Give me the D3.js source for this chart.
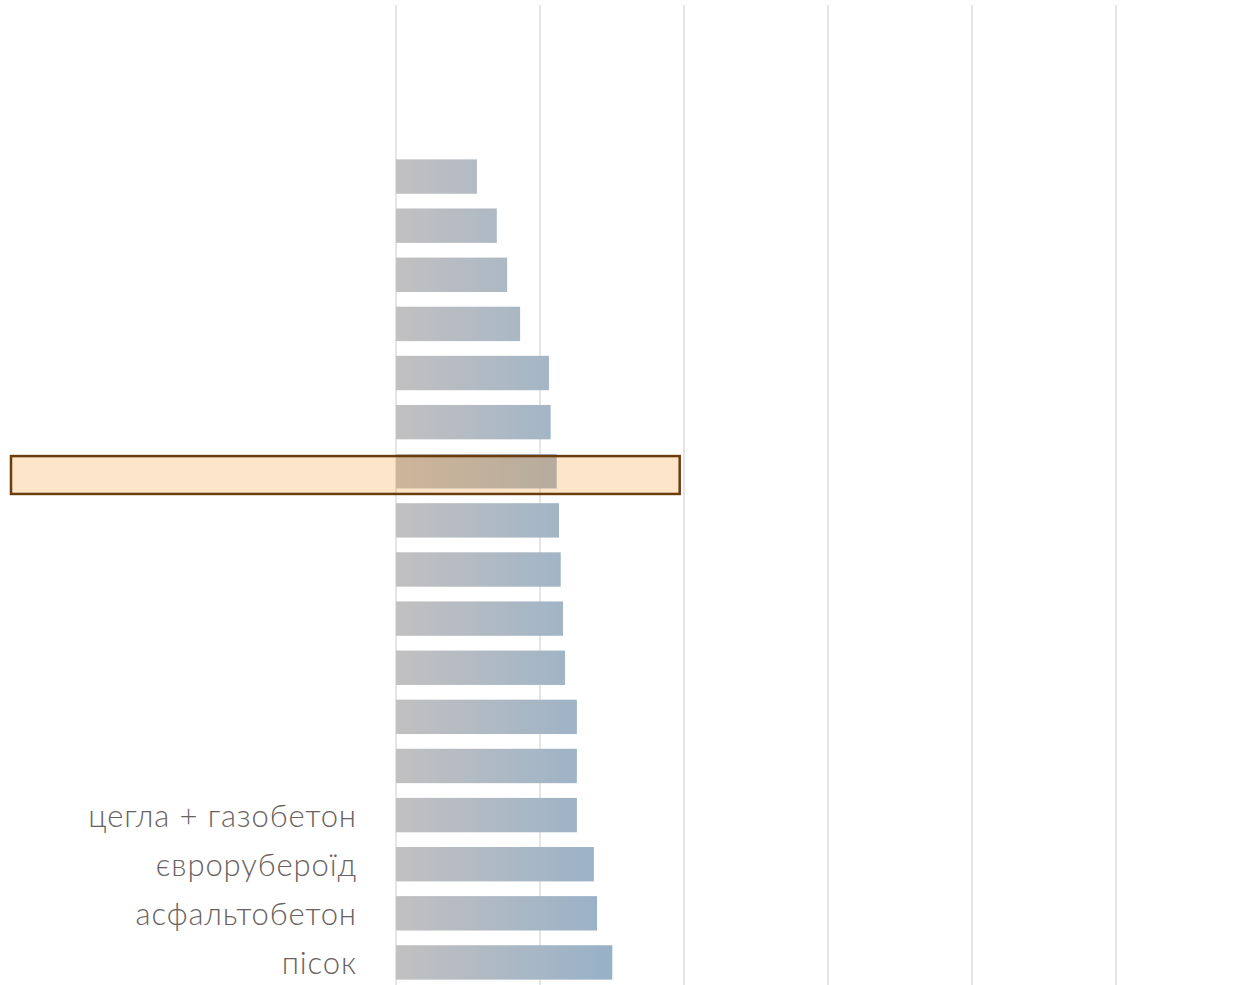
<!DOCTYPE html>
<html lang="uk">
<head>
  <meta charset="utf-8">
  <title>Матеріали</title>
  <script src="https://d3js.org/d3.v7.min.js"></script>
  <style>
    body { margin: 0; background: #fff; }
    .label { font-family: Lato, "Open Sans", sans-serif; font-weight: 300; font-size: 31px; letter-spacing: 0.9px; fill: #6a6260; }
    .grid line { stroke: #dcdcdc; stroke-width: 1.5; }
  </style>
</head>
<body>
<svg width="1248" height="985"></svg>
<script>
// rows from top to bottom; only the last four carry a visible name
var categories = ["r1","r2","r3","r4","r5","r6","r7","r8","r9","r10","r11","r12","r13",
                  "цегла + газобетон","єврорубероїд","асфальтобетон","пісок"];
var labels = ["","","","","","","","","","","","","",
              "цегла + газобетон","єврорубероїд","асфальтобетон","пісок"];
var values = [28.1, 35.0, 38.6, 43.1, 53.1, 53.7, 55.8, 56.6, 57.2, 58.0, 58.7,
              62.8, 62.8, 62.8, 68.7, 69.8, 75.1];
var tickValues = [0, 50, 100, 150, 200, 250];
var highlightRow = 6;
var highlightMax = 98.5;

var svg = d3.select("svg"),
    width = +svg.attr("width"),
    height = +svg.attr("height");

var x = d3.scaleLinear().domain([0, 300]).range([396, 1260]);
var y = d3.scaleBand().domain(categories).range([152, 987])
    .paddingInner(0.3).paddingOuter(0.15);

/* gradient shared by all bars */
var grad = svg.append("defs").append("linearGradient")
    .attr("id", "barGrad")
    .attr("gradientUnits", "userSpaceOnUse")
    .attr("x1", x(0)).attr("x2", x(d3.max(values))).attr("y1", 0).attr("y2", 0);
grad.append("stop").attr("offset", "0%").attr("stop-color", "#c2c0c0");
grad.append("stop").attr("offset", "100%").attr("stop-color", "#97b1c8");

/* vertical gridlines */
svg.append("g").attr("class", "grid")
  .selectAll("line")
  .data(tickValues)
  .enter().append("line")
    .attr("x1", function(d) { return x(d); })
    .attr("x2", function(d) { return x(d); })
    .attr("y1", 5)
    .attr("y2", height);

/* bars */
svg.append("g")
  .selectAll("rect")
  .data(values)
  .enter().append("rect")
    .attr("x", x(0))
    .attr("y", function(d, i) { return y(categories[i]); })
    .attr("width", function(d) { return x(d) - x(0); })
    .attr("height", y.bandwidth())
    .attr("fill", "url(#barGrad)");

/* labels */
svg.append("g")
  .selectAll("text")
  .data(labels)
  .enter().append("text")
    .attr("class", "label")
    .attr("x", 357)
    .attr("y", function(d, i) { return y(categories[i]) + y.bandwidth() / 2; })
    .attr("dy", "0.38em")
    .attr("text-anchor", "end")
    .text(function(d) { return d; });

/* highlight box over one row */
var hy = y(categories[highlightRow]);
svg.append("rect")
    .attr("x", 11)
    .attr("y", hy + 2)
    .attr("width", x(highlightMax) - 11)
    .attr("height", y.bandwidth() + 3.5)
    .attr("fill", "#f7941d")
    .attr("fill-opacity", 0.24)
    .attr("stroke", "#6b3d0d")
    .attr("stroke-width", 2.5);
</script>
</body>
</html>
